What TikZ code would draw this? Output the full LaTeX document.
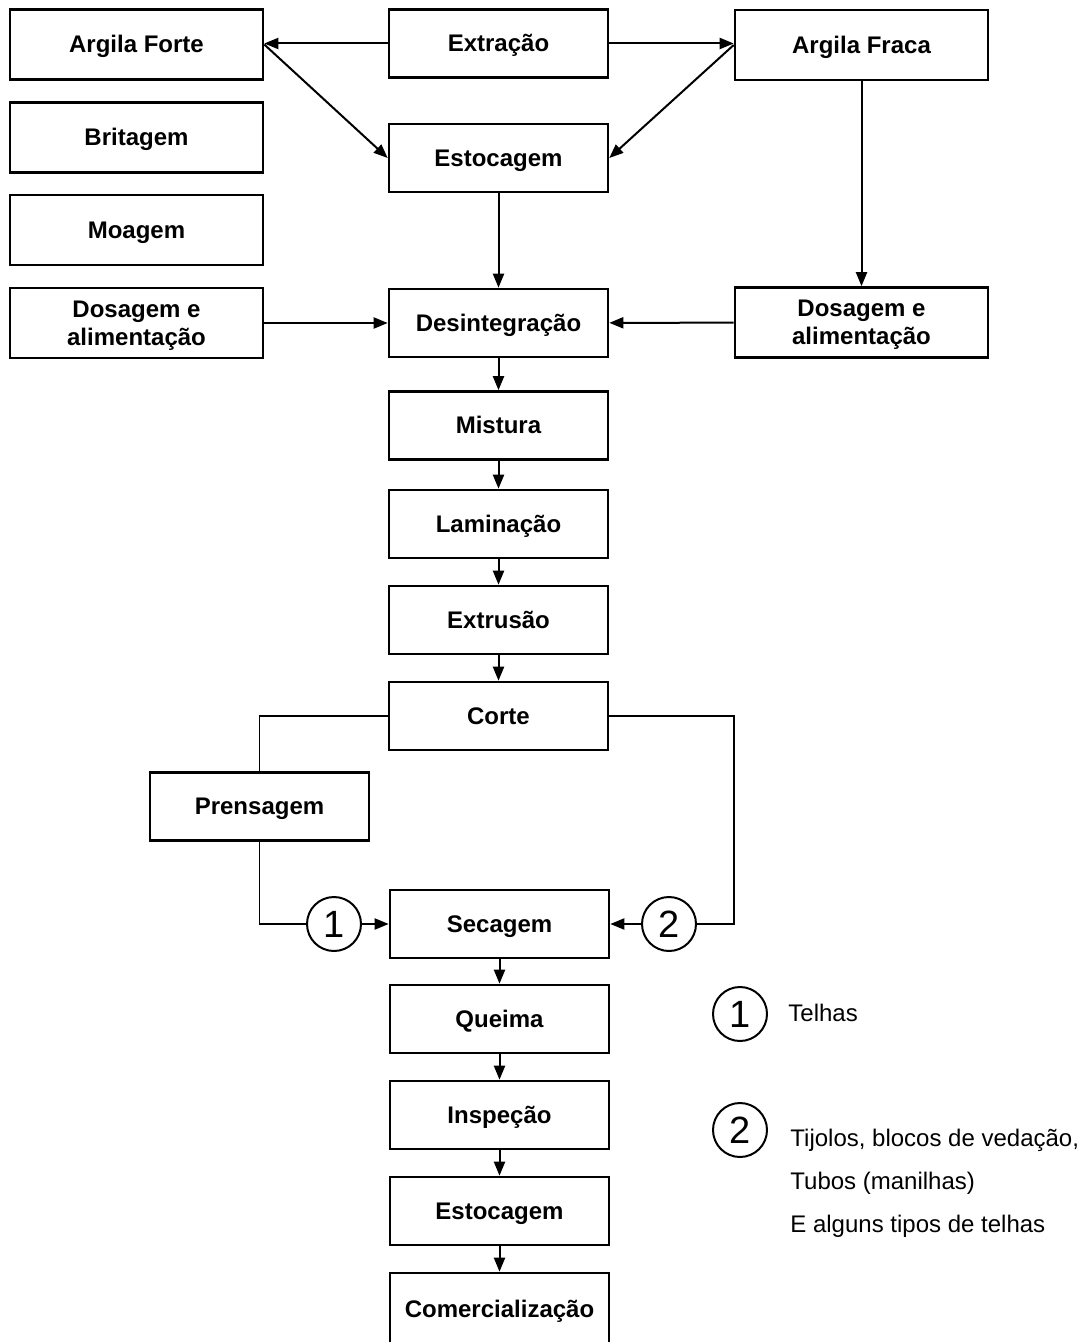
\documentclass[tikz,border=0pt]{standalone}
\usepackage{fontspec}
\setmainfont{Liberation Sans}
\usetikzlibrary{arrows.meta}
\begin{document}
\begin{tikzpicture}[x=0.5pt,y=-0.5pt,
  every node/.style={inner sep=0pt},
  box/.style={draw, line width=1.3pt, font=\bfseries\fontsize{12}{14}\selectfont, align=center, text height=10.8pt, text depth=2.4pt},
  twoline/.style={text height=24.8pt, text depth=2.4pt},
  wbox/.style={box, minimum width=126.5pt, minimum height=35pt},
  nbox/.style={box, minimum width=109.5pt, minimum height=34pt},
  flow/.style={line width=1pt, -{Triangle[length=7pt,width=5.5pt]}},
  link/.style={line width=0.6pt},
  num/.style={draw, circle, line width=1pt, minimum size=27pt, font=\fontsize{19}{19}\selectfont},
  legend/.style={anchor=base west, font=\fontsize{12}{14}\selectfont}]
\useasboundingbox (0,0) rectangle (1088,1342);
% left column
\node[wbox] (af) at (136.5,44.5) {Argila Forte};
\node[wbox] (br) at (136.5,137.5) {Britagem};
\node[wbox] (mo) at (136.5,230) {Moagem};
\node[wbox, twoline] (dl) at (136.5,323) {Dosagem e\\alimentação};
% centre column
\node[nbox] (ex) at (498.5,43.5) {Extração};
\node[nbox] (es1) at (498.5,158) {Estocagem};
\node[nbox] (de) at (498.5,323) {Desintegração};
\node[nbox] (mi) at (498.5,425.5) {Mistura};
\node[nbox] (la) at (498.5,524) {Laminação};
\node[nbox] (et) at (498.5,620) {Extrusão};
\node[nbox] (co) at (498.5,716) {Corte};
\node[nbox] (pr) at (259.5,806.5) {Prensagem};
\node[nbox] (se) at (499.5,924) {Secagem};
\node[nbox] (qu) at (499.5,1019) {Queima};
\node[nbox] (in) at (499.5,1115) {Inspeção};
\node[nbox] (es2) at (499.5,1211) {Estocagem};
\node[nbox, minimum height=36pt] (cm) at (499.5,1309) {Comercialização};
% right column
\node[wbox] (afr) at (861.5,45) {Argila Fraca};
\node[wbox, twoline] (dr) at (861.5,322.5) {Dosagem e\\alimentação};
% circles
\node[num] (c1) at (334,924) {1};
\node[num] (c2) at (669,924) {2};
\coordinate (cr) at (734,716);
% connectors
\draw[flow] (ex.west) -- (ex.west -| af.east);
\draw[flow] (ex.east) -- (ex.east -| afr.west);
\draw[flow] (af.east) -- (es1.west);
\draw[flow] (afr.west) -- (es1.east);
\draw[flow] (es1) -- (de);
\draw[flow] (afr) -- (dr);
\draw[flow] (dl) -- (de);
\draw[flow] (dr) -- (de);
\draw[flow] (de) -- (mi);
\draw[flow] (mi) -- (la);
\draw[flow] (la) -- (et);
\draw[flow] (et) -- (co);
\draw[link] (co.west) -| (pr.north);
\draw[link] (pr.south) |- (c1.west);
\draw[flow] (c1) -- (se);
\draw[link] (co.east) -- (cr) |- (c2.east);
\draw[flow] (c2) -- (se);
\draw[flow] (se) -- (qu);
\draw[flow] (qu) -- (in);
\draw[flow] (in) -- (es2);
\draw[flow] (es2) -- (cm);
% legend
\node[num] (l1) at (740,1014) {1};
\node[num] (l2) at (740,1130) {2};
\node[legend] (t1) at (788,1021) {Telhas};
\node[legend] (t2) at (790,1146) {Tijolos, blocos de vedação,};
\node[legend] (t3) at (790,1189) {Tubos (manilhas)};
\node[legend] (t4) at (790,1232) {E alguns tipos de telhas};
\end{tikzpicture}
\end{document}
